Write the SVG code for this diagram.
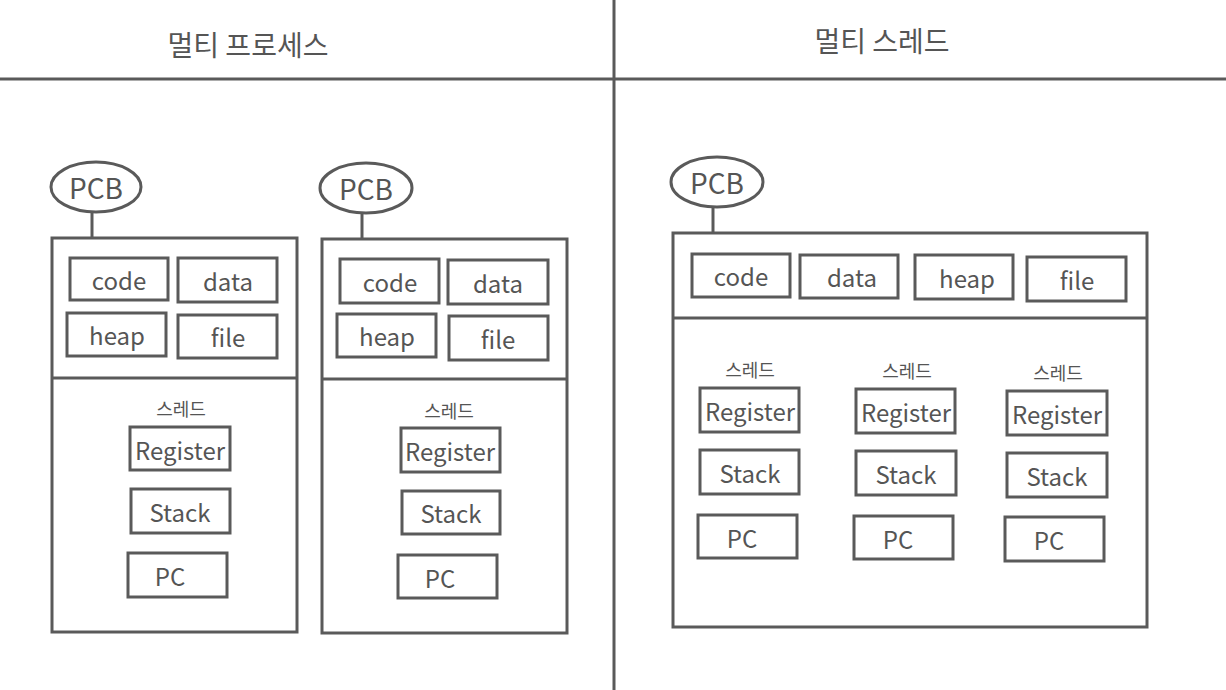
<svg xmlns="http://www.w3.org/2000/svg" width="1226" height="690" viewBox="0 0 1226 690">
<style>
.b{fill:#fff;stroke:#5a5a5a;stroke-width:3}
.ln{stroke:#5a5a5a;stroke-width:3;fill:none}
.t{font-family:"Noto Sans CJK KR","Liberation Sans",sans-serif;fill:#555;text-anchor:middle;dominant-baseline:central}
.s{font-size:24px}
.r{font-size:24px}
.h{font-size:28px}
.k{font-size:18px}
</style>
<rect width="1226" height="690" fill="#fff"/>
<g id="dividers">
<line class="ln" x1="0" y1="79" x2="1226" y2="79"/>
<line class="ln" x1="614" y1="0" x2="614" y2="690"/>
</g>
<text class="t h" x="248" y="44">멀티 프로세스</text>
<text class="t h" x="882" y="40">멀티 스레드</text>
<g id="connectors">
<line class="ln" x1="92" y1="212" x2="92" y2="238"/>
<line class="ln" x1="362" y1="213" x2="362" y2="239"/>
<line class="ln" x1="713" y1="207" x2="713" y2="234"/>
</g>
<g id="process1">
<rect class="b" x="52" y="238" width="245" height="394"/>
<line class="ln" x1="52" y1="378" x2="297" y2="378"/>
<g id="p1-pcb"><ellipse class="b" cx="96" cy="187" rx="45" ry="25"/><text class="t h" x="96" y="187">PCB</text></g>
<g id="p1-code"><rect class="b" x="70" y="258" width="98" height="42"/><text class="t s" x="119" y="279">code</text></g>
<g id="p1-data"><rect class="b" x="178" y="258" width="99" height="44"/><text class="t s" x="228" y="280">data</text></g>
<g id="p1-heap"><rect class="b" x="67" y="313" width="99" height="43"/><text class="t s" x="117" y="334">heap</text></g>
<g id="p1-file"><rect class="b" x="178" y="315" width="99" height="43"/><text class="t s" x="228" y="336">file</text></g>
<text class="t k" x="181" y="408">스레드</text>
<g id="p1-reg"><rect class="b" x="130" y="427" width="100" height="43"/><text class="t r" x="180" y="449" textLength="90" lengthAdjust="spacingAndGlyphs">Register</text></g>
<g id="p1-stack"><rect class="b" x="131" y="489" width="99" height="44"/><text class="t s" x="180" y="511">Stack</text></g>
<g id="p1-pc"><rect class="b" x="128" y="553" width="99" height="44"/><text class="t s" x="170" y="575">PC</text></g>
</g>
<g id="process2">
<rect class="b" x="322" y="239" width="245" height="394"/>
<line class="ln" x1="322" y1="379" x2="567" y2="379"/>
<g id="p2-pcb"><ellipse class="b" cx="366" cy="188" rx="46" ry="25"/><text class="t h" x="366" y="188">PCB</text></g>
<g id="p2-code"><rect class="b" x="340" y="259" width="99" height="44"/><text class="t s" x="390" y="281">code</text></g>
<g id="p2-data"><rect class="b" x="448" y="260" width="100" height="44"/><text class="t s" x="498" y="282">data</text></g>
<g id="p2-heap"><rect class="b" x="337" y="314" width="99" height="43"/><text class="t s" x="387" y="335">heap</text></g>
<g id="p2-file"><rect class="b" x="449" y="316" width="99" height="44"/><text class="t s" x="498" y="338">file</text></g>
<text class="t k" x="449" y="410">스레드</text>
<g id="p2-reg"><rect class="b" x="401" y="428" width="99" height="44"/><text class="t r" x="450" y="450" textLength="90" lengthAdjust="spacingAndGlyphs">Register</text></g>
<g id="p2-stack"><rect class="b" x="402" y="491" width="98" height="43"/><text class="t s" x="451" y="512">Stack</text></g>
<g id="p2-pc"><rect class="b" x="398" y="555" width="99" height="43"/><text class="t s" x="440" y="577">PC</text></g>
</g>
<g id="threads">
<rect class="b" x="673" y="233" width="474" height="394"/>
<line class="ln" x1="673" y1="318" x2="1147" y2="318"/>
<g id="t-pcb"><ellipse class="b" cx="717" cy="182" rx="46" ry="25"/><text class="t h" x="717" y="182">PCB</text></g>
<g id="t-code"><rect class="b" x="692" y="254" width="98" height="43"/><text class="t s" x="741" y="275">code</text></g>
<g id="t-data"><rect class="b" x="800" y="255" width="98" height="43"/><text class="t s" x="852" y="276">data</text></g>
<g id="t-heap"><rect class="b" x="915" y="255" width="98" height="44"/><text class="t s" x="967" y="277">heap</text></g>
<g id="t-file"><rect class="b" x="1027" y="257" width="99" height="44"/><text class="t s" x="1077" y="279">file</text></g>
<g id="thread1">
<text class="t k" x="750" y="369">스레드</text>
<rect class="b" x="700" y="388" width="99" height="44"/><text class="t r" x="750" y="410" textLength="90" lengthAdjust="spacingAndGlyphs">Register</text>
<rect class="b" x="700" y="450" width="99" height="44"/><text class="t s" x="750" y="472">Stack</text>
<rect class="b" x="698" y="515" width="99" height="43"/><text class="t s" x="742" y="537">PC</text>
</g>
<g id="thread2">
<text class="t k" x="907" y="370">스레드</text>
<rect class="b" x="856" y="389" width="99" height="44"/><text class="t r" x="906" y="411" textLength="90" lengthAdjust="spacingAndGlyphs">Register</text>
<rect class="b" x="856" y="451" width="100" height="44"/><text class="t s" x="906" y="473">Stack</text>
<rect class="b" x="854" y="516" width="99" height="43"/><text class="t s" x="898" y="538">PC</text>
</g>
<g id="thread3">
<text class="t k" x="1058" y="372">스레드</text>
<rect class="b" x="1007" y="391" width="100" height="44"/><text class="t r" x="1057" y="413" textLength="90" lengthAdjust="spacingAndGlyphs">Register</text>
<rect class="b" x="1007" y="453" width="100" height="44"/><text class="t s" x="1057" y="475">Stack</text>
<rect class="b" x="1005" y="517" width="99" height="44"/><text class="t s" x="1049" y="539">PC</text>
</g>
</g>
</svg>
